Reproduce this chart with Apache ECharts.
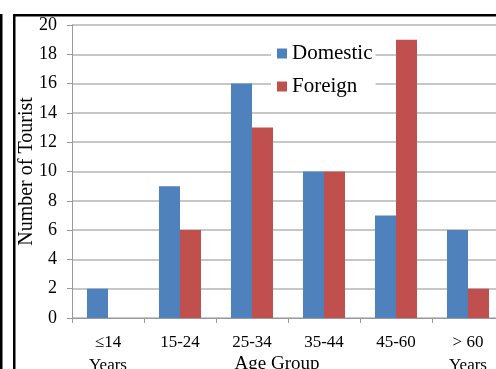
<!DOCTYPE html>
<html>
<head>
<meta charset="utf-8">
<script src="https://cdn.jsdelivr.net/npm/echarts@6/dist/echarts.min.js"></script>
<style>
  html, body { margin: 0; padding: 0; background: #fff; }
  #chart { width: 496px; height: 369px; }
</style>
</head>
<body>
<div id="chart"></div>
<script>
// Tourists by age group
const categories = ['≤14\nYears', '15-24', '25-34', '35-44', '45-60', '> 60\nYears'];
const domestic = [2, 9, 16, 10, 7, 6];
const foreign = [0, 6, 13, 10, 19, 2];
const yTicks = { min: 0, max: 20, interval: 2 };

const serif = '"Liberation Serif", "Times New Roman", serif';
const chart = echarts.init(document.getElementById('chart'), null, { renderer: 'canvas' });

chart.setOption({
  animation: false,
  backgroundColor: '#fff',
  textStyle: { fontFamily: serif, color: '#000' },
  grid: { left: 72, right: -8, top: 25, bottom: 51, containLabel: false, outerBoundsMode: 'none' },
  legend: {
    orient: 'vertical',
    left: 271,
    top: 40,
    itemWidth: 10,
    itemHeight: 10,
    itemGap: 12,
    padding: [3, 3, 3, 6],
    backgroundColor: '#fff',
    icon: 'rect',
    textStyle: { fontFamily: serif, fontSize: 21, color: '#000' },
    data: ['Domestic', 'Foreign']
  },
  xAxis: {
    type: 'category',
    data: categories,
    name: 'Age Group',
    nameLocation: 'middle',
    nameGap: 37,
    nameMoveOverlap: false,
    nameTextStyle: { fontFamily: serif, fontSize: 19, color: '#000', verticalAlign: 'top', padding: [0, 22, 0, 0] },
    axisLine: { lineStyle: { color: '#9a9a9a', width: 1 } },
    axisTick: { show: true, length: 5, lineStyle: { color: '#9a9a9a' } },
    axisLabel: { fontFamily: serif, fontSize: 17, color: '#000', margin: 13, lineHeight: 23 }
  },
  yAxis: {
    type: 'value',
    min: yTicks.min,
    max: yTicks.max,
    interval: yTicks.interval,
    name: 'Number of Tourist',
    nameLocation: 'middle',
    nameGap: 35,
    nameRotate: 90,
    nameMoveOverlap: false,
    nameTextStyle: { fontFamily: serif, fontSize: 20, color: '#000' },
    axisLine: { show: true, lineStyle: { color: '#9a9a9a', width: 1 } },
    axisTick: { show: true, length: 5, lineStyle: { color: '#9a9a9a' } },
    axisLabel: { fontFamily: serif, fontSize: 18, color: '#000', margin: 15 },
    splitLine: { lineStyle: { color: '#b4b4b4', width: 1.5 } }
  },
  series: [
    {
      name: 'Domestic',
      type: 'bar',
      data: domestic,
      barWidth: 21,
      barGap: '0%',
      itemStyle: { color: '#4F81BD' }
    },
    {
      name: 'Foreign',
      type: 'bar',
      data: foreign,
      barWidth: 21,
      barGap: '0%',
      itemStyle: { color: '#C0504D' }
    }
  ],
  graphic: [
    { type: 'rect', left: 0, top: 14, shape: { width: 2.5, height: 360 }, style: { fill: '#000' }, z: 100 },
    { type: 'rect', left: 13, top: 14, shape: { width: 2.5, height: 360 }, style: { fill: '#000' }, z: 100 },
    { type: 'rect', left: 13, top: 14, shape: { width: 490, height: 2.5 }, style: { fill: '#000' }, z: 100 }
  ]
});
</script>
</body>
</html>
